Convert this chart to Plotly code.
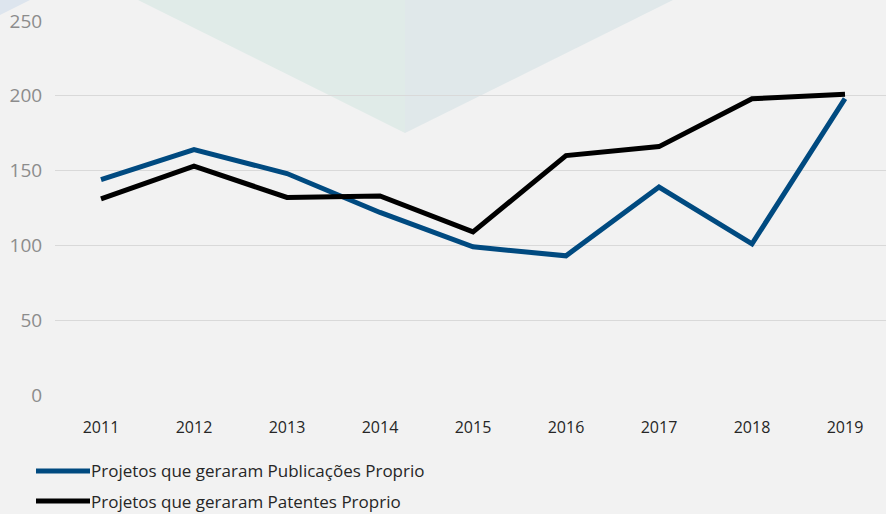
import plotly.graph_objects as go

# Data
anos = ["2011", "2012", "2013", "2014", "2015", "2016", "2017", "2018", "2019"]
publicacoes = [144, 164, 148, 122, 99, 93, 139, 101, 198]
patentes = [131, 153, 132, 133, 109, 160, 166, 198, 201]
nome_publicacoes = "Projetos que geraram Publicações Proprio"
nome_patentes = "Projetos que geraram Patentes Proprio"
y_ticks = [0, 50, 100, 150, 200, 250]

cor_pub = "#004a80"
cor_pat = "#000000"
fundo = "#f2f2f2"
fonte = "Open Sans"

W, H = 886, 514
ML, MR, MT, MB = 55, 0, 20, 119
PW, PH = W - ML - MR, H - MT - MB


def px(x):
    return (x - ML) / PW


def py(y):
    return (H - MB - y) / PH


fig = go.Figure()
fig.add_trace(go.Scatter(x=anos, y=publicacoes, mode="lines", name=nome_publicacoes,
                         line=dict(color=cor_pub, width=5)))
fig.add_trace(go.Scatter(x=anos, y=patentes, mode="lines", name=nome_patentes,
                         line=dict(color=cor_pat, width=5)))

shapes = [
    # decorative background triangle (two tones)
    dict(type="path", xref="paper", yref="paper", layer="below",
         path=f"M {px(138)},{py(0)} L {px(405)},{py(0)} L {px(405)},{py(133)} Z",
         fillcolor="#e0ebe8", line=dict(width=0)),
    dict(type="path", xref="paper", yref="paper", layer="below",
         path=f"M {px(405)},{py(0)} L {px(673)},{py(0)} L {px(405)},{py(133)} Z",
         fillcolor="#e0e8ea", line=dict(width=0)),
    # corner accent
    dict(type="path", xref="paper", yref="paper", layer="below",
         path=f"M {px(0)},{py(0)} L {px(30)},{py(0)} L {px(0)},{py(15)} Z",
         fillcolor="#dde5ee", line=dict(width=0)),
]

annotations = []
legend_items = [(nome_publicacoes, cor_pub, 471), (nome_patentes, cor_pat, 501)]
for nome, cor, yy in legend_items:
    shapes.append(dict(type="line", xref="paper", yref="paper",
                       x0=px(36), x1=px(90), y0=py(yy), y1=py(yy),
                       line=dict(color=cor, width=5)))
    annotations.append(dict(xref="paper", yref="paper", x=px(90), y=py(yy),
                            xanchor="left", yanchor="middle", showarrow=False,
                            borderpad=0, text=nome,
                            font=dict(family=fonte, size=17, color="#262626")))

fig.update_layout(
    width=W, height=H,
    margin=dict(l=ML, r=MR, t=MT, b=MB, pad=0),
    paper_bgcolor=fundo, plot_bgcolor=fundo,
    showlegend=False,
    shapes=shapes,
    annotations=annotations,
    xaxis=dict(type="category", range=[-46 / 93, -46 / 93 + PW / 93],
               showgrid=False, zeroline=False, showline=False,
               ticks="outside", ticklen=18, tickcolor="rgba(0,0,0,0)",
               tickfont=dict(family=fonte, size=16, color="#262626")),
    yaxis=dict(range=[0, 250.6], tickvals=y_ticks, showgrid=True,
               gridcolor="#d9d9d9", gridwidth=1, zeroline=False, showline=False,
               ticks="outside", ticklen=8, tickcolor="rgba(0,0,0,0)",
               tickfont=dict(family=fonte, size=19, color="#8c8c8c")),
)

fig.write_html("out.html")
